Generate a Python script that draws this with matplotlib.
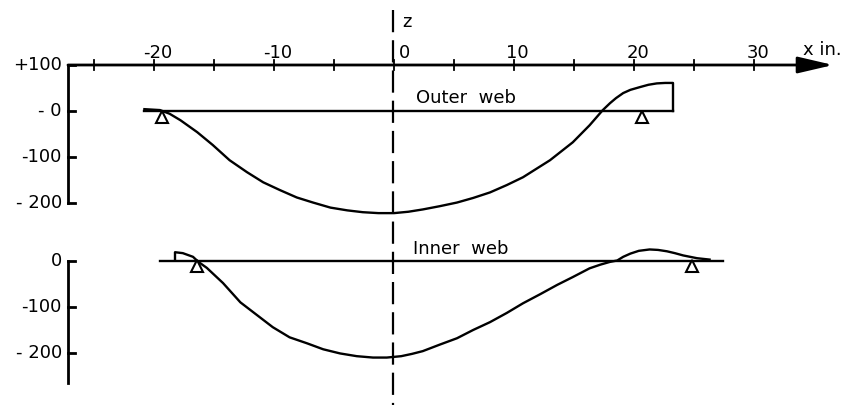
import matplotlib
matplotlib.use('Agg')
from matplotlib import pyplot as plt

# Distance along the web (in.) and values
outer_x = [-20.8, -19.5, -18.7, -17.8, -16.4, -15.1, -13.7, -12.25, -10.9, -9.5,
           -8.1, -6.75, -5.3, -3.9, -2.6, -1.3, 0, 1.2, 2.4, 3.8, 5.25, 6.6, 8.0,
           9.4, 10.75, 13.0, 14.9, 16.3, 17.4, 18.0, 18.5, 19.1, 19.7, 20.5, 21.2,
           21.9, 22.6, 23.25, 23.25]
outer_m = [4, 2, -6, -20, -46, -74, -107, -133, -155, -172,
           -188, -199, -210, -216, -220, -222, -222, -219, -214, -207, -199, -189, -177,
           -161, -144, -107, -68, -31, 2, 17, 28, 39, 46, 52, 57,
           60, 61, 61, 0]

inner_x = [-18.25, -18.25, -17.6, -16.75, -16.3, -15.6, -14.25, -12.8, -11.4,
           -10.1, -8.7, -7.25, -5.9, -4.5, -3.1, -1.75, -0.6, 0.6, 1.5, 2.4, 3.8,
           5.25, 6.6, 8.0, 9.4, 10.75, 12.2, 13.6, 14.9, 16.3, 17.2, 18.0, 18.6,
           19.1, 19.7, 20.4, 21.3, 22.0, 22.75, 23.4, 24.1, 25.25, 26.3]
inner_m = [0, 18, 16, 8, -3, -16, -49, -91, -119,
           -145, -167, -180, -193, -202, -208, -211, -211, -208, -203, -197, -183,
           -169, -151, -134, -114, -93, -73, -53, -36, -17, -9, -3, 0,
           8, 15, 21, 24, 23, 20, 16, 11, 5, 2]

outer_base = [-20.8, 23.25]
inner_base = [-19.5, 27.4]
outer_supports = [-19.3, 20.7]
inner_supports = [-16.4, 24.8]

x_ticks = [-25, -20, -15, -10, -5, 0, 5, 10, 15, 20, 25, 30]
x_labels = {-20: '-20', -10: '-10', 10: '10', 20: '20', 30: '30'}
top_yticks = [100, 0, -100, -200]
top_ylabels = ['+100', '- 0', '-100', '- 200']
bot_yticks = [0, -100, -200]
bot_ylabels = ['0', '-100', '- 200']

fs = 13
xlim = (-394 / 12, (843 - 394) / 12)
y_axis_x = -27.17

fig = plt.figure(figsize=(8.43, 4.05), dpi=100)
top = fig.add_axes([0, 0, 1, 1])
bot = fig.add_axes([0, 0, 1, 1])
for ax in (top, bot):
    ax.set_xlim(*xlim)
    ax.axis('off')
    ax.patch.set_alpha(0)
top.set_ylim(-(405 - 111) / 0.46, 111 / 0.46)
bot.set_ylim(-(405 - 260.5) / 0.46, 260.5 / 0.46)

k = 'black'

# x axis with arrow
top.annotate('', xy=(36.6, 100), xytext=(y_axis_x, 100),
             arrowprops=dict(arrowstyle='-|>,head_length=1.2,head_width=0.28',
                             mutation_scale=18, lw=2, color=k,
                             shrinkA=0, shrinkB=0))
for t in x_ticks:
    top.plot([t, t], [89, 111], color=k, lw=1.3)
for t, lab in x_labels.items():
    top.text(t + 0.3, 126, lab, fontsize=fs, ha='center', va='center')
top.text(0.4, 126, '0', fontsize=fs, ha='left', va='center')
top.text(37.3, 133, 'x in.', fontsize=fs, ha='right', va='center')

# z axis
top.plot([-0.1, -0.1], [220, -700], color=k, lw=1.6, ls=(0, (10, 3.6)))
top.text(0.7, 193, 'z', fontsize=fs, ha='left', va='center')

# top y axis
top.plot([y_axis_x, y_axis_x], [100, -200], color=k, lw=2)
for t, lab in zip(top_yticks, top_ylabels):
    top.plot([y_axis_x, y_axis_x + 0.6], [t, t], color=k, lw=2)
    top.text(y_axis_x - 0.5, t, lab, fontsize=fs, ha='right', va='center')

# bottom y axis
bot.plot([y_axis_x, y_axis_x], [0, -266], color=k, lw=2)
for t, lab in zip(bot_yticks, bot_ylabels):
    bot.plot([y_axis_x, y_axis_x + 0.6], [t, t], color=k, lw=2)
    bot.text(y_axis_x - 0.5, t, lab, fontsize=fs, ha='right', va='center')

# outer web
top.plot(outer_base, [0, 0], color=k, lw=1.7)
top.plot(outer_x, outer_m, color=k, lw=1.7, solid_joinstyle='round')
top.plot(outer_supports, [-13, -13], ls='none', marker='^', ms=8,
         mfc='white', mec=k, mew=1.5)
top.text(1.8, 28, 'Outer  web', fontsize=fs, ha='left', va='center')

# inner web
bot.plot(inner_base, [0, 0], color=k, lw=1.7)
bot.plot(inner_x, inner_m, color=k, lw=1.7, solid_joinstyle='round')
bot.plot(inner_supports, [-13, -13], ls='none', marker='^', ms=8,
         mfc='white', mec=k, mew=1.5)
bot.text(1.6, 25, 'Inner  web', fontsize=fs, ha='left', va='center')

plt.savefig('out.png', dpi=100)
